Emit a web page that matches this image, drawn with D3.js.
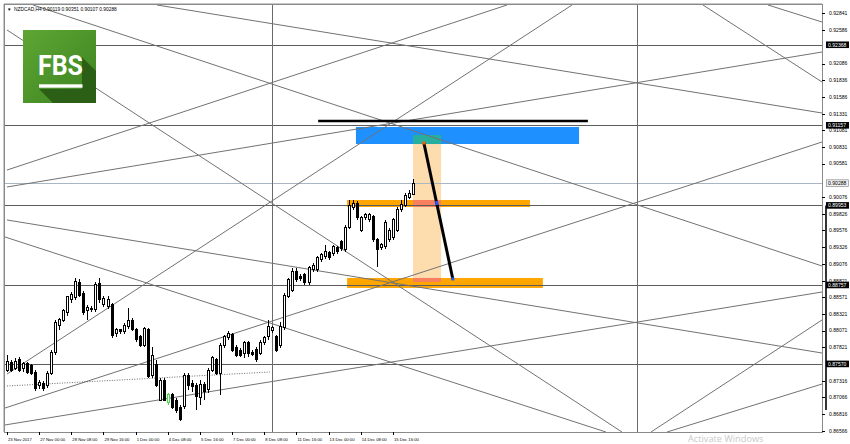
<!DOCTYPE html>
<html><head><meta charset="utf-8">
<script src="https://cdn.jsdelivr.net/npm/d3@7/dist/d3.min.js"></script>
<style>html,body{margin:0;padding:0;background:#fff;overflow:hidden}</style>
</head><body><svg id="c" width="850" height="444"></svg>
<script>
// ---------------- DATA ----------------
const symbolTitle = "NZDCAD,H4";
const lastOHLC = [0.90119, 0.90351, 0.90107, 0.90288];

const opens = [0.87478,0.87584,0.87508,0.87629,0.87508,0.87569,0.87539,0.87448,0.87238,0.87283,
0.87238,0.87433,0.87749,0.88155,0.88230,0.88336,0.88531,0.88561,0.88787,0.88636,
0.88366,0.88396,0.88381,0.88772,0.88456,0.88426,0.88456,0.88020,0.88080,0.88050,
0.88125,0.88230,0.88080,0.87975,0.87854,0.88080,0.87403,0.87554,0.87027,0.87328,
0.86997,0.87103,0.87027,0.86922,0.86937,0.87403,0.87283,0.87238,0.87058,0.87268,
0.87178,0.87478,0.87629,0.87433,0.87854,0.87960,0.88005,0.87824,0.87779,0.87734,
0.87885,0.87749,0.87794,0.87734,0.87885,0.87975,0.88065,0.87975,0.87854,0.88110,
0.88591,0.88681,0.88952,0.88877,0.88907,0.88787,0.88982,0.88982,0.89133,0.89178,
0.89238,0.89223,0.89313,0.89403,0.89283,0.89628,0.89914,0.89989,0.89583,0.89764,
0.89734,0.89779,0.89433,0.89313,0.89328,0.89433,0.89463,0.89583,0.89884,0.89959,
0.90079,0.90119];
const highs = [0.87704,0.87629,0.87659,0.87674,0.87599,0.87599,0.87569,0.87478,0.87328,0.87313,
0.87463,0.87779,0.88230,0.88260,0.88396,0.88591,0.88651,0.88862,0.88847,0.88666,
0.88456,0.88441,0.88802,0.88862,0.88591,0.88591,0.88486,0.88110,0.88095,0.88185,
0.88411,0.88260,0.88110,0.88005,0.88125,0.88110,0.87824,0.87629,0.87358,0.87358,
0.87133,0.87133,0.87058,0.86952,0.87433,0.87433,0.87328,0.87283,0.87328,0.87298,
0.87508,0.87689,0.87659,0.87885,0.88005,0.88065,0.88035,0.87854,0.87809,0.87915,
0.87915,0.87779,0.87824,0.87930,0.87990,0.88230,0.88140,0.88005,0.88200,0.88636,
0.88862,0.89012,0.89012,0.88922,0.88937,0.89042,0.89087,0.89193,0.89238,0.89358,
0.89268,0.89358,0.89343,0.89433,0.89658,0.90034,0.90034,0.90019,0.89794,0.89839,
0.89839,0.89809,0.89463,0.89388,0.89734,0.89613,0.89764,0.89929,0.90034,0.90139,
0.90185,0.90351];
const lows = [0.87448,0.87448,0.87478,0.87448,0.87448,0.87418,0.87403,0.87163,0.87193,0.87163,
0.87208,0.87403,0.87704,0.88080,0.88200,0.88291,0.88486,0.88531,0.88576,0.88306,
0.88230,0.88351,0.88351,0.88486,0.88426,0.88396,0.87960,0.87975,0.88020,0.88020,
0.88095,0.88065,0.87900,0.87824,0.87824,0.87358,0.87358,0.87223,0.87012,0.87012,
0.86952,0.86892,0.86832,0.86712,0.86892,0.87178,0.87148,0.86877,0.86952,0.87027,
0.87133,0.87448,0.87403,0.87103,0.87809,0.87930,0.87749,0.87674,0.87674,0.87659,
0.87674,0.87689,0.87599,0.87704,0.87854,0.87930,0.88035,0.87749,0.87809,0.88080,
0.88561,0.88651,0.88802,0.88817,0.88757,0.88757,0.88952,0.88952,0.89102,0.89148,
0.89133,0.89193,0.89223,0.89268,0.89253,0.89598,0.89884,0.89734,0.89553,0.89734,
0.89703,0.89403,0.89027,0.89283,0.89298,0.89403,0.89433,0.89553,0.89854,0.89929,
0.90049,0.90107];
const closes = [0.87599,0.87478,0.87599,0.87478,0.87569,0.87448,0.87433,0.87193,0.87298,0.87193,
0.87433,0.87749,0.88200,0.88245,0.88366,0.88576,0.88621,0.88802,0.88606,0.88336,
0.88411,0.88381,0.88757,0.88531,0.88546,0.88531,0.87990,0.88080,0.88050,0.88155,
0.88230,0.88080,0.87930,0.87854,0.88095,0.87388,0.87704,0.87253,0.87328,0.87027,
0.87103,0.86922,0.86877,0.86727,0.87403,0.87253,0.87223,0.87073,0.87268,0.87148,
0.87478,0.87659,0.87433,0.87854,0.87975,0.88020,0.87779,0.87704,0.87704,0.87885,
0.87734,0.87719,0.87629,0.87885,0.87960,0.88125,0.88110,0.87779,0.88140,0.88606,
0.88832,0.88952,0.88832,0.88847,0.88787,0.89012,0.89057,0.89163,0.89208,0.89253,
0.89163,0.89328,0.89253,0.89298,0.89628,0.89959,0.89989,0.89764,0.89764,0.89809,
0.89809,0.89433,0.89283,0.89358,0.89703,0.89583,0.89734,0.89884,0.89974,0.90109,
0.90139,0.90288];
const highlightedBar = 40;

const timeTickIndex = [0,8,16,24,32,40,48,56,64,72,80,88,96];
const timeTickLabels = ["23 Nov 2017","27 Nov 00:00","28 Nov 08:00","29 Nov 16:00","1 Dec 00:00",
  "4 Dec 08:00","5 Dec 16:00","7 Dec 00:00","8 Dec 08:00","11 Dec 16:00","13 Dec 00:00",
  "14 Dec 08:00","15 Dec 16:00"];
const priceTicks = [0.92841,0.92586,0.92086,0.91836,0.91586,0.91331,0.91081,0.90831,0.90581,
  0.90076,0.89826,0.89576,0.89326,0.89076,0.88821,0.88571,0.88321,0.88071,0.87821,
  0.87316,0.87066,0.86816,0.86566];

const levelPrices = [0.92368,0.91157,0.89953,0.88757,0.87570];
const bidPrice = 0.90288;
const verticalLineIndex = [65.9,156.7];
// trend / grid lines: [startBar, startPrice, endBar, endPrice]
const trendLines = [
  [6.47,0.92966,202.74,0.89042],
  [37.31,0.92966,202.74,0.91342],
  [0,0.92590,152.99,0.86546],
  [0,0.90485,124.38,0.92966],
  [0,0.90230,202.74,0.92259],
  [0,0.87418,140.55,0.92966],
  [0,0.89734,202.74,0.87734],
  [-0.5,0.89478,149.0,0.86546],
  [173.13,0.92966,202.74,0.91808],
  [189.3,0.92966,202.74,0.92710],
  [-0.5,0.86907,202.74,0.90906],
  [-0.5,0.86652,202.74,0.88651],
  [160.2,0.86546,202.74,0.88230],
  [164.18,0.86546,202.74,0.87268]
];
const dottedLine = [0,0.87238,65.4,0.87448];
// rectangles: [bar1, bar2, priceTop, priceBottom]
const blueZone = [86.8,142.3,0.91132,0.90876];
const projectionZone = [101.0,108.0,0.91012,0.88802];
const overlapZone = [101.0,108.0,0.91012,0.90876];
const orangeZones = [[84.6,130.1,0.90034,0.89929],[84.6,133.3,0.88862,0.88712]];
const topLine = [77.4,144.5,0.91222];
const moveLine = [103.7,0.90891,110.9,0.88847];
const moveMid = [106.9,0.89989];
const watermark = "Activate Windows";

// ---------------- DRAW ----------------
const svg = d3.select('#c');
const P = {l:5,t:5,r:822,b:432};
const x = d3.scaleLinear().domain([0,100]).range([7,409]);
const y = d3.scaleLinear().domain([0.86566,0.92841]).range([430.7,13.3]);
const FONT = "'Liberation Sans', Arial, sans-serif";

svg.append('rect').attr('width',850).attr('height',444).attr('fill','#fff');
svg.append('defs').append('clipPath').attr('id','clip')
  .append('rect').attr('x',P.l).attr('y',P.t).attr('width',P.r-P.l).attr('height',P.b-P.t);

const lay = svg.append('g').attr('clip-path','url(#clip)');

function zone(z, col){
  lay.append('rect').attr('x',x(z[0])).attr('width',x(z[1])-x(z[0]))
    .attr('y',y(z[2])).attr('height',y(z[3])-y(z[2])).attr('fill',col);
}
zone(projectionZone,'#fddcae');
zone(blueZone,'#1e90ff');
zone(overlapZone,'#27ae9f');
orangeZones.forEach(z=>{
  zone(z,'#ffa500');
  const ov=[projectionZone[0],projectionZone[1],Math.min(z[2],projectionZone[2]),Math.max(z[3],projectionZone[3])];
  if (ov[2]>ov[3]) zone(ov,'#f8805e');
});

lay.selectAll('line.lvl').data(levelPrices).join('line')
  .attr('x1',P.l).attr('x2',P.r).attr('y1',d=>Math.round(y(d))+0.5).attr('y2',d=>Math.round(y(d))+0.5)
  .attr('stroke','#5c5c5c').attr('stroke-width',1);
lay.append('line').attr('x1',P.l).attr('x2',P.r)
  .attr('y1',Math.round(y(bidPrice))+0.5).attr('y2',Math.round(y(bidPrice))+0.5)
  .attr('stroke','#a9b6c4').attr('stroke-width',1);
lay.selectAll('line.vl').data(verticalLineIndex).join('line')
  .attr('x1',d=>Math.round(x(d))+0.5).attr('x2',d=>Math.round(x(d))+0.5).attr('y1',P.t).attr('y2',P.b)
  .attr('stroke','#6a6a6a').attr('stroke-width',1);
lay.selectAll('line.tl').data(trendLines).join('line')
  .attr('x1',d=>x(d[0])).attr('y1',d=>y(d[1])).attr('x2',d=>x(d[2])).attr('y2',d=>y(d[3]))
  .attr('stroke','#727272').attr('stroke-width',1);
lay.append('line').attr('x1',x(dottedLine[0])).attr('y1',y(dottedLine[1]))
  .attr('x2',x(dottedLine[2])).attr('y2',y(dottedLine[3]))
  .attr('stroke','#444').attr('stroke-width',0.8).attr('stroke-dasharray','1,1.5');

const candles = opens.map((o,i)=>({i,o,h:highs[i],l:lows[i],c:closes[i]}));
const cg = lay.append('g').attr('shape-rendering','crispEdges');
cg.selectAll('line.wick').data(candles).join('line')
  .attr('x1',d=>Math.round(x(d.i))+0.5).attr('x2',d=>Math.round(x(d.i))+0.5)
  .attr('y1',d=>y(d.h)).attr('y2',d=>y(d.l))
  .attr('stroke',d=>d.i===highlightedBar?'#44dd44':'#000').attr('stroke-width',1);
cg.selectAll('rect.body').data(candles).join('rect')
  .attr('x',d=>Math.round(x(d.i))-0.5).attr('width',2)
  .attr('y',d=>y(Math.max(d.o,d.c))).attr('height',d=>Math.max(1,Math.abs(y(d.o)-y(d.c))))
  .attr('fill',d=>d.c>=d.o?'#fff':'#000')
  .attr('stroke',d=>d.i===highlightedBar?'#44dd44':'#000').attr('stroke-width',1);

lay.append('line').attr('x1',x(topLine[0])).attr('x2',x(topLine[1]))
  .attr('y1',y(topLine[2])).attr('y2',y(topLine[2])).attr('stroke','#000').attr('stroke-width',2.5);
lay.append('line').attr('x1',x(moveLine[0])).attr('y1',y(moveLine[1]))
  .attr('x2',x(moveLine[2])).attr('y2',y(moveLine[3])).attr('stroke','#000').attr('stroke-width',3);
lay.append('rect').attr('x',x(moveLine[0])-1.5).attr('y',y(moveLine[1])-1.5).attr('width',3).attr('height',3).attr('fill','#ff5a00');
lay.append('rect').attr('x',x(moveLine[2])-1.5).attr('y',y(moveLine[3])-1.5).attr('width',3).attr('height',3).attr('fill','#1f5fff');
lay.append('rect').attr('x',x(moveMid[0])-1.5).attr('y',y(moveMid[1])-2).attr('width',3).attr('height',4).attr('fill','#1f5fff');

svg.append('rect').attr('x',P.l-0.5).attr('y',P.t-0.5).attr('width',P.r-P.l+1).attr('height',P.b-P.t+1)
  .attr('fill','none').attr('stroke','#8a8a8a').attr('stroke-width',1);
svg.append('line').attr('x1',P.l-1).attr('x2',P.r).attr('y1',P.t-1.5).attr('y2',P.t-1.5).attr('stroke','#c8c8c8');
svg.append('line').attr('x1',P.l-1.5).attr('x2',P.l-1.5).attr('y1',P.t-1).attr('y2',P.b).attr('stroke','#c8c8c8');

// logo
const logo = svg.append('g');
const lg = svg.select('defs').append('linearGradient').attr('id','lg').attr('x1',0).attr('y1',0).attr('x2',1).attr('y2',1);
lg.append('stop').attr('offset',0).attr('stop-color','#5ea633');
lg.append('stop').attr('offset',1).attr('stop-color','#3c8420');
svg.select('defs').append('clipPath').attr('id','lclip').append('rect').attr('x',23).attr('y',30).attr('width',73).attr('height',73);
logo.append('rect').attr('x',23).attr('y',30).attr('width',73).attr('height',73).attr('fill','url(#lg)');
logo.append('polygon').attr('clip-path','url(#lclip)')
  .attr('points','82,57 97,72 97,104 54,104 39,89 82,89').attr('fill','#2c5f16');
logo.append('text').attr('x',38).attr('y',75).attr('textLength',45).attr('lengthAdjust','spacingAndGlyphs')
  .attr('font-family',"Roboto, 'Liberation Sans', sans-serif").attr('font-weight','bold').attr('font-size',27)
  .attr('fill','#fff').text('FBS');
logo.append('rect').attr('x',39).attr('y',84.3).attr('width',43.5).attr('height',3.4).attr('fill','#fff');

// title
svg.append('text').attr('x',7).attr('y',10.5).attr('font-family',FONT).attr('font-size',4.5).attr('fill','#000').text('▼');
svg.append('text').attr('x',14).attr('y',10.6).attr('font-family',FONT).attr('font-size',4.85).attr('fill','#000')
  .text(symbolTitle+' '+lastOHLC.map(v=>v.toFixed(5)).join(' '));

// price axis
const pa = svg.append('g');
pa.selectAll('line.pt').data(priceTicks).join('line')
  .attr('x1',P.r).attr('x2',P.r+3).attr('y1',d=>Math.round(y(d))+0.5).attr('y2',d=>Math.round(y(d))+0.5).attr('stroke','#000');
pa.selectAll('text.pt').data(priceTicks).join('text')
  .attr('x',829).attr('y',d=>y(d)+1.8).attr('font-family',FONT).attr('font-size',5.1).attr('fill','#000')
  .text(d=>d.toFixed(5));
pa.append('line').attr('x1',826).attr('x2',826).attr('y1',y(levelPrices[2])).attr('y2',410).attr('stroke','#000').attr('stroke-width',1.6);
pa.append('rect').attr('x',826.5).attr('y',y(bidPrice)-3.3).attr('width',22).attr('height',6.6)
  .attr('fill','#f0f0f0').attr('stroke','#7a7a7a').attr('stroke-width',0.6);
pa.append('text').attr('x',828).attr('y',y(bidPrice)+1.8).attr('font-family',FONT).attr('font-size',5.1).attr('fill','#000').text(bidPrice.toFixed(5));
levelPrices.forEach(p=>{
  pa.append('rect').attr('x',826).attr('y',y(p)-3.3).attr('width',23).attr('height',6.6).attr('fill','#000');
  pa.append('text').attr('x',828).attr('y',y(p)+1.8).attr('font-family',FONT).attr('font-size',5.1).attr('fill','#fff').text(p.toFixed(5));
});

// time axis
const ta = svg.append('g');
ta.selectAll('line.tt').data(timeTickIndex).join('line')
  .attr('x1',d=>Math.round(x(d))+0.5).attr('x2',d=>Math.round(x(d))+0.5).attr('y1',P.b).attr('y2',P.b+3).attr('stroke','#000');
ta.selectAll('text.tt').data(timeTickIndex).join('text')
  .attr('x',d=>x(d)+1).attr('y',441).attr('font-family',FONT).attr('font-size',4.2).attr('fill','#000')
  .text((d,i)=>timeTickLabels[i]);

// watermark
svg.append('text').attr('x',688).attr('y',441.5).attr('font-family',"'Open Sans', 'Liberation Sans', sans-serif")
  .attr('font-size',9.2).attr('fill','#c9c9c9').text(watermark);
</script></body></html>
